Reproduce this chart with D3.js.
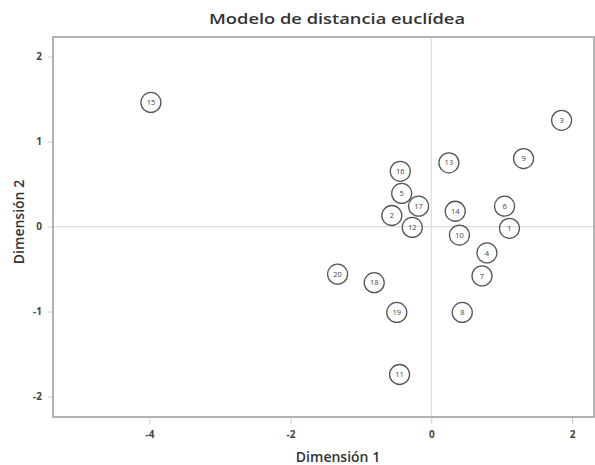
<!DOCTYPE html>
<html lang="es">
<head>
    <meta charset="UTF-8">
    <title>Modelo de distancia euclídea</title>
    <style>
        body { margin: 0; background: #fff; }
        svg text { font-family: "Open Sans", "DejaVu Sans", sans-serif; fill: #333; }
        .tick text { font-size: 10px; font-weight: 700; fill: #444; }
        .point circle { fill: none; stroke: #555; stroke-width: 1.3px; }
        .point text { font-size: 7.5px; fill: #444; }
    </style>
</head>
<body>
    <div id="chart"></div>
    <script src="https://d3js.org/d3.v7.min.js"></script>
    <script>
        // etiquetas de los estimulos y coordenadas en las dos dimensiones
        const labels = ["15", "3", "9", "13", "16", "5", "17", "2", "12", "14",
                        "10", "6", "1", "4", "7", "20", "18", "19", "8", "11"];
        const dim1 = [-3.98, 1.85, 1.31, 0.25, -0.44, -0.42, -0.18, -0.56, -0.27, 0.34,
                      0.40, 1.04, 1.11, 0.79, 0.72, -1.33, -0.81, -0.49, 0.44, -0.45];
        const dim2 = [1.46, 1.25, 0.80, 0.75, 0.65, 0.39, 0.24, 0.13, -0.01, 0.18,
                      -0.10, 0.24, -0.02, -0.31, -0.58, -0.56, -0.66, -1.01, -1.01, -1.74];
        const xTicks = [-4, -2, 0, 2];
        const yTicks = [-2, -1, 0, 1, 2];

        const W = 595, H = 465;
        const margin = { top: 37, right: 1, bottom: 48, left: 53 };
        const width = W - margin.left - margin.right,
            height = H - margin.top - margin.bottom;

        const svg = d3.select("#chart").append("svg")
            .attr("width", W)
            .attr("height", H);

        const g = svg.append("g")
            .attr("transform", "translate(" + margin.left + "," + margin.top + ")");

        const x = d3.scaleLinear().domain([-5.37, 2.31]).range([0, width]);
        const y = d3.scaleLinear().domain([-2.24, 2.23]).range([height, 0]);

        // lineas de referencia en cero
        g.append("line")
            .attr("x1", x(0)).attr("x2", x(0))
            .attr("y1", 0).attr("y2", height)
            .attr("stroke", "#ddd").attr("stroke-width", 1.2);
        g.append("line")
            .attr("x1", 0).attr("x2", width)
            .attr("y1", y(0)).attr("y2", y(0))
            .attr("stroke", "#ddd").attr("stroke-width", 1.2);

        // guion normal en los negativos, como en el original
        const fmt = d => String(d);

        const xAxis = g.append("g")
            .attr("transform", "translate(0," + height + ")")
            .call(d3.axisBottom(x).tickValues(xTicks).tickFormat(fmt).tickSize(7).tickPadding(7));
        const yAxis = g.append("g")
            .call(d3.axisLeft(y).tickValues(yTicks).tickFormat(fmt).tickSize(5).tickPadding(6));
        [xAxis, yAxis].forEach(a => {
            a.select(".domain").remove();
            a.selectAll(".tick line").attr("stroke", "#ccc");
        });

        // marco
        g.append("rect")
            .attr("width", width).attr("height", height)
            .attr("fill", "none")
            .attr("stroke", "#aaa").attr("stroke-width", 1.8);

        const pts = labels.map((l, i) => ({ label: l, d1: dim1[i], d2: dim2[i] }));

        const node = g.selectAll(".point")
            .data(pts)
            .enter().append("g")
            .attr("class", "point")
            .attr("transform", d => `translate(${x(d.d1)},${y(d.d2)})`);

        node.append("circle").attr("r", 10);
        node.append("text")
            .attr("text-anchor", "middle")
            .attr("dy", "0.35em")
            .text(d => d.label);

        svg.append("text")
            .attr("x", 337).attr("y", 24)
            .attr("text-anchor", "middle")
            .style("font-size", "15px").style("font-weight", 600)
            .attr("textLength", 256).attr("lengthAdjust", "spacingAndGlyphs")
            .text("Modelo de distancia euclídea");

        svg.append("text")
            .attr("x", 338).attr("y", 462)
            .attr("text-anchor", "middle")
            .style("font-size", "14px").style("font-weight", 600)
            .text("Dimensión 1");

        svg.append("text")
            .attr("transform", "translate(24,222) rotate(-90)")
            .attr("text-anchor", "middle")
            .style("font-size", "14px").style("font-weight", 600)
            .text("Dimensión 2");
    </script>
</body>
</html>
